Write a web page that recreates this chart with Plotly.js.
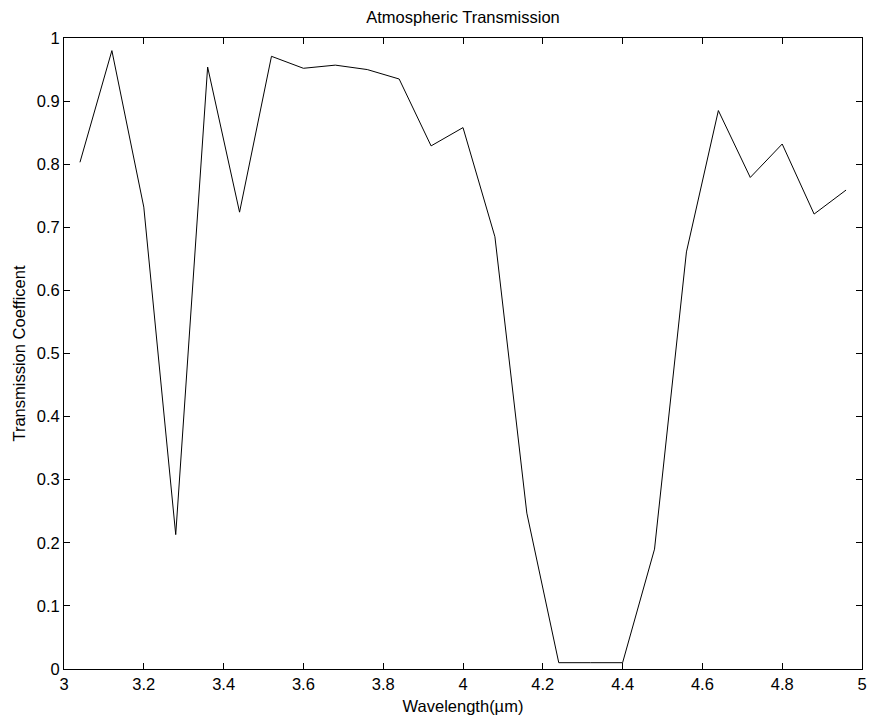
<!DOCTYPE html>
<html>
<head>
<meta charset="utf-8">
<script src="https://cdn.plot.ly/plotly-3.0.1.min.js"></script>
<style>html,body{margin:0;padding:0;background:#fff;}#chart{width:871px;height:722px;}</style>
</head>
<body>
<div id="chart"></div>
<script>
const wavelength = [3.04, 3.12, 3.20, 3.28, 3.36, 3.44, 3.52, 3.60, 3.68, 3.76, 3.84, 3.92, 4.00, 4.08, 4.16, 4.24, 4.32, 4.40, 4.48, 4.56, 4.64, 4.72, 4.80, 4.88, 4.96];
const transmission = [0.803, 0.980, 0.732, 0.213, 0.954, 0.724, 0.971, 0.952, 0.957, 0.950, 0.935, 0.829, 0.858, 0.685, 0.247, 0.010, 0.010, 0.010, 0.190, 0.661, 0.885, 0.779, 0.832, 0.721, 0.759];
const xTicks = [3, 3.2, 3.4, 3.6, 3.8, 4, 4.2, 4.4, 4.6, 4.8, 5];
const yTicks = [0, 0.1, 0.2, 0.3, 0.4, 0.5, 0.6, 0.7, 0.8, 0.9, 1];

const font = {family: 'Liberation Sans, Arial, Helvetica, sans-serif', size: 16.5, color: '#000'};

const trace = {
  x: wavelength, y: transmission, type: 'scatter', mode: 'lines',
  line: {color: '#000', width: 1}, hoverinfo: 'skip'
};

const axisCommon = {
  showgrid: false, zeroline: false, showline: true, linecolor: '#000', linewidth: 1,
  mirror: 'ticks', ticks: 'inside', ticklen: 6, tickcolor: '#000', tickwidth: 1,
  tickfont: font, automargin: false
};

const layout = {
  width: 871, height: 722,
  margin: {l: 64, r: 9, t: 38, b: 53},
  paper_bgcolor: '#fff', plot_bgcolor: '#fff',
  font: font,
  showlegend: false,
  title: {text: 'Atmospheric Transmission', font: font, x: 0.5, xref: 'paper', xanchor: 'center', y: 1 - 17/722, yref: 'container', yanchor: 'middle'},
  xaxis: Object.assign({}, axisCommon, {
    range: [3, 5], tickvals: xTicks, ticktext: xTicks.map(String),
    title: {text: 'Wavelength(\u00b5m)', font: font, standoff: 8}
  }),
  yaxis: Object.assign({}, axisCommon, {
    range: [0, 1], tickvals: yTicks, ticktext: yTicks.map(String),
    title: {text: 'Transmission Coefficent', font: font, standoff: 6}
  })
};

Plotly.newPlot('chart', [trace], layout, {displayModeBar: false, staticPlot: true});
</script>
</body>
</html>
